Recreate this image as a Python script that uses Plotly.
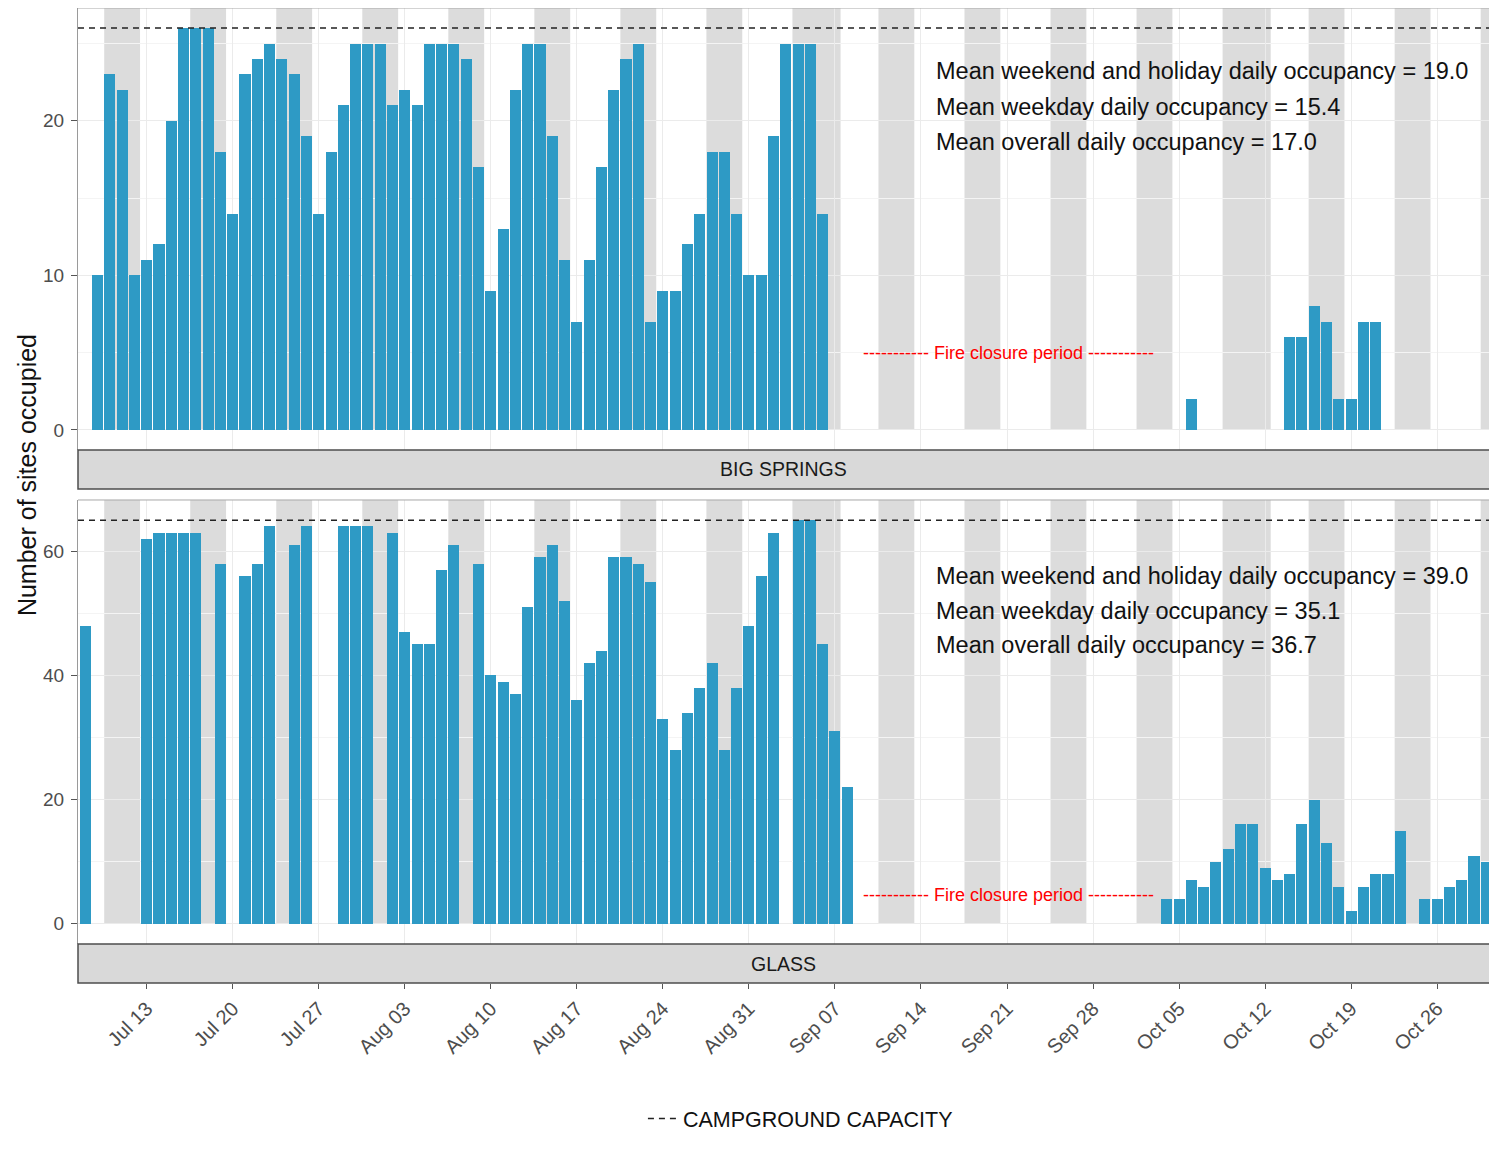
import pandas as pd
import plotly.graph_objects as go

# ---------------- data ----------------
bs_seg1_start = "2020-07-09"
bs_seg1 = [10, 23, 22, 10, 11, 12, 20, 26, 26, 26, 18, 14, 23, 24, 25, 24, 23, 19, 14, 18, 21, 25, 25,
           25, 21, 22, 21, 25, 25, 25, 24, 17, 9, 13, 22, 25, 25, 19, 11, 7, 11, 17, 22, 24, 25, 7, 9, 9,
           12, 14, 18, 18, 14, 10,
           10, 19, 25, 25, 25, 14]
bs_seg2_start = "2020-10-06"
bs_seg2 = [2]
bs_seg3_start = "2020-10-14"
bs_seg3 = [6, 6, 8, 7, 2, 2, 7, 7]

gl_seg1_start = "2020-07-08"
gl_seg1 = [48, None, None, None, None, 62, 63, 63, 63, 63, None, 58, None, 56, 58, 64, None, 61, 64,
           None, None, 64, 64, 64,
           None, 63, 47, 45, 45, 57, 61, None, 58, 40, 39, 37, 51, 59, 61, 52, 36, 42, 44, 59, 59, 58,
           55, 33, 28, 34, 38, 42, 28, 38, 48,
           56, 63, None, 65, 65, 45, 31, 22]
gl_seg2_start = "2020-10-04"
gl_seg2 = [4, 4, 7, 6, 10, 12, 16, 16, 9, 7, 8, 16, 20, 13, 6, 2, 6, 8, 8, 15, None, 4, 4, 6, 7, 11, 10, 12]

bs_capacity = 26
gl_capacity = 65

campgrounds = ["BIG SPRINGS", "GLASS"]
bs_means = ["Mean weekend and holiday daily occupancy = 19.0",
            "Mean weekday daily occupancy = 15.4",
            "Mean overall daily occupancy = 17.0"]
gl_means = ["Mean weekend and holiday daily occupancy = 39.0",
            "Mean weekday daily occupancy = 35.1",
            "Mean overall daily occupancy = 36.7"]

# weekend / holiday periods (first day, last day)
band_starts = ["2020-07-10", "2020-07-17", "2020-07-24", "2020-07-31", "2020-08-07", "2020-08-14",
               "2020-08-21", "2020-08-28", "2020-09-04", "2020-09-11", "2020-09-18", "2020-09-25",
               "2020-10-02", "2020-10-09", "2020-10-16", "2020-10-23", "2020-10-30"]
band_ends = ["2020-07-12", "2020-07-19", "2020-07-26", "2020-08-02", "2020-08-09", "2020-08-16",
             "2020-08-23", "2020-08-30", "2020-09-07", "2020-09-13", "2020-09-20", "2020-09-27",
             "2020-10-04", "2020-10-12", "2020-10-18", "2020-10-25", "2020-11-01"]

tick_labels = ["Jul 13", "Jul 20", "Jul 27", "Aug 03", "Aug 10", "Aug 17", "Aug 24", "Aug 31",
               "Sep 07", "Sep 14", "Sep 21", "Sep 28", "Oct 05", "Oct 12", "Oct 19", "Oct 26"]
tick_start = "2020-07-13"


def seg(start, vals):
    return list(pd.date_range(start, periods=len(vals), freq="D")), vals


bs_x, bs_y = [], []
for s, v in [(bs_seg1_start, bs_seg1), (bs_seg2_start, bs_seg2), (bs_seg3_start, bs_seg3)]:
    d, vv = seg(s, v)
    bs_x += d
    bs_y += vv
gl_x, gl_y = [], []
for s, v in [(gl_seg1_start, gl_seg1), (gl_seg2_start, gl_seg2)]:
    d, vv = seg(s, v)
    gl_x += d
    gl_y += vv

tick_vals = list(pd.date_range(tick_start, periods=len(tick_labels), freq="7D"))

# ---------------- style / layout constants ----------------
FONT = "Liberation Sans, Arial, sans-serif"
BAR = "#2E9AC5"
BAND = "#DCDCDC"
DAY_MS = 86400000
x_range = [pd.Timestamp("2020-07-07 09:50"), pd.Timestamp("2020-10-30 05:15")]
bs_range = [-0.05 * bs_capacity, 1.05 * bs_capacity]
gl_range = [-0.05 * gl_capacity, 1.05 * gl_capacity]

FIG_H = 1133
PLOT_H = 975
P1 = [0.5467, 1.0]
P2 = [0.04, 0.4954]
S1 = [0.5067, 0.5467]
S2 = [0.0, 0.04]

fig = go.Figure()
fig.add_trace(go.Bar(x=bs_x, y=bs_y, width=0.9 * DAY_MS, marker=dict(color=BAR, line=dict(width=0)),
                     xaxis="x", yaxis="y", showlegend=False))
fig.add_trace(go.Bar(x=gl_x, y=gl_y, width=0.9 * DAY_MS, marker=dict(color=BAR, line=dict(width=0)),
                     xaxis="x2", yaxis="y2", showlegend=False))
fig.add_trace(go.Scatter(x=x_range, y=[bs_capacity, bs_capacity], mode="lines",
                         line=dict(color="#222222", width=1.5, dash="6px,5px"),
                         name="CAMPGROUND CAPACITY", xaxis="x", yaxis="y", showlegend=True))
fig.add_trace(go.Scatter(x=x_range, y=[gl_capacity, gl_capacity], mode="lines",
                         line=dict(color="#222222", width=1.5, dash="6px,5px"),
                         name="CAMPGROUND CAPACITY", xaxis="x2", yaxis="y2", showlegend=False))

shapes = []
for a, b in zip(band_starts, band_ends):
    x0 = pd.Timestamp(a) - pd.Timedelta(hours=11)
    x1 = pd.Timestamp(b) + pd.Timedelta(hours=11)
    for xr, yr, rng in [("x", "y", bs_range), ("x2", "y2", gl_range)]:
        shapes.append(dict(type="rect", xref=xr, yref=yr, x0=x0, x1=x1, y0=0, y1=rng[1],
                           fillcolor=BAND, line=dict(width=0), layer="below"))
# strips
for s in [S1, S2]:
    shapes.append(dict(type="rect", xref="paper", yref="paper", x0=0, x1=1.01, y0=s[0], y1=s[1],
                       fillcolor="#D9D9D9", line=dict(color="#4D4D4D", width=1.5), layer="above"))
# panel top border
for yr in ["y", "y2"]:
    shapes.append(dict(type="line", xref="paper", yref=yr + " domain", x0=0, x1=1.01, y0=1, y1=1,
                       line=dict(color="#A8A8A8", width=1)))

annotations = []
for txt, s in zip(campgrounds, [S1, S2]):
    annotations.append(dict(text=txt, xref="paper", yref="paper", x=0.5, y=(s[0] + s[1]) / 2,
                            xanchor="center", yanchor="middle",
                            showarrow=False, font=dict(family=FONT, size=19.5, color="#1A1A1A")))
mean_x = pd.Timestamp("2020-09-15 01:40")
for lines, ys, xr, yr in [(bs_means, [23.2, 20.9, 18.6], "x", "y"),
                          (gl_means, [56.0, 50.4, 44.9], "x2", "y2")]:
    for t, yv in zip(lines, ys):
        annotations.append(dict(text=t, xref=xr, yref=yr, x=mean_x, y=yv, xanchor="left",
                                yanchor="middle",
                                showarrow=False, font=dict(family=FONT, size=23.5, color="#111111")))
fire_x = pd.Timestamp("2020-09-21 02:00")
fire_txt = "----------- Fire closure period -----------"
for xr, yr, yv in [("x", "y", 5.0), ("x2", "y2", 4.6)]:
    annotations.append(dict(text=fire_txt, xref=xr, yref=yr, x=fire_x, y=yv, showarrow=False,
                            xanchor="center", yanchor="middle",
                            font=dict(family=FONT, size=18, color="#FF0000")))
annotations.append(dict(text="Number of sites occupied", xref="paper", yref="paper", x=-0.0361, y=0.521,
                        xanchor="center", yanchor="middle",
                        textangle=-90, showarrow=False, font=dict(family=FONT, size=25, color="#111111")))

yax_common = dict(showline=True, linecolor="#9A9A9A", linewidth=1, ticks="outside", ticklen=6,
                  tickcolor="#555555", tickfont=dict(family=FONT, size=19, color="#4D4D4D"),
                  ticklabelstandoff=3,
                  showgrid=True, gridcolor="#EBEBEB", gridwidth=1, zeroline=False)

fig.update_layout(
    width=1481, height=FIG_H,
    margin=dict(l=70, r=0, t=0, b=FIG_H - PLOT_H),
    paper_bgcolor="white", plot_bgcolor="white",
    barmode="overlay", bargap=0,
    font=dict(family=FONT),
    xaxis=dict(type="date", range=x_range, anchor="y", showticklabels=False, ticks="",
               tickvals=tick_vals, showgrid=True, gridcolor="#EBEBEB", zeroline=False, showline=False),
    xaxis2=dict(type="date", range=x_range, anchor="free", position=0, tickvals=tick_vals,
                ticktext=tick_labels, tickangle=-45, ticks="outside", ticklen=5, tickcolor="#555555",
                tickfont=dict(family=FONT, size=20, color="#4D4D4D"), showgrid=True, gridcolor="#EBEBEB",
                zeroline=False, showline=False),
    yaxis=dict(domain=P1, range=bs_range, anchor="x", tickvals=[0, 10, 20],
               minor=dict(tickvals=[5, 15, 25], showgrid=True, gridcolor="#F4F4F4"), **yax_common),
    yaxis2=dict(domain=P2, range=gl_range, anchor="x2", tickvals=[0, 20, 40, 60],
                minor=dict(tickvals=[10, 30, 50], showgrid=True, gridcolor="#F4F4F4"), **yax_common),
    shapes=shapes, annotations=annotations,
    legend=dict(orientation="h", x=0.512, xanchor="center", y=-(FIG_H - 2 - PLOT_H) / PLOT_H,
                yanchor="bottom", font=dict(family=FONT, size=21.5, color="#111111"), itemwidth=30),
)

fig.write_html("out.html")
